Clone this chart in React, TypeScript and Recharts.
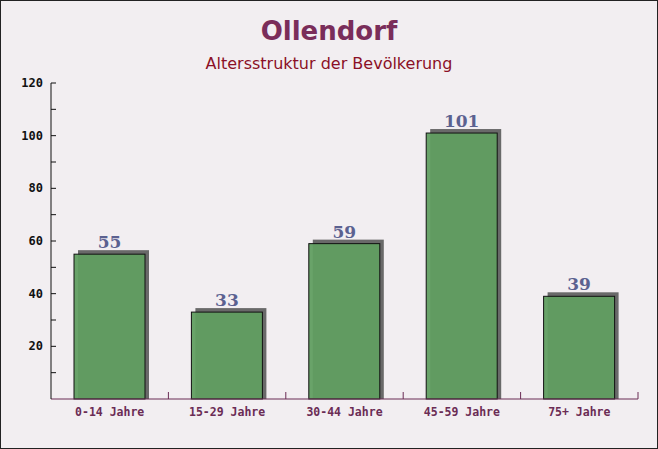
import { Bar, BarChart, LabelList, XAxis, YAxis } from 'recharts';

const categories = ['0-14 Jahre', '15-29 Jahre', '30-44 Jahre', '45-59 Jahre', '75+ Jahre'];
const population = [55, 33, 59, 101, 39];
const yTicks = [0, 10, 20, 30, 40, 50, 60, 70, 80, 90, 100, 110, 120];

const data = categories.map((name, i) => ({ name, value: population[i] }));

function ShadowBar(props: any) {
  const { x, y, width, height } = props;
  if (!height || height <= 0) return null;
  return (
    <g>
      <rect x={x + 4} y={y - 4} width={width} height={height + 4} fill="#5a5a5a" fillOpacity={0.9} />
      <rect x={x} y={y} width={width} height={height} fill="#619e61" fillOpacity={0.95} stroke="#111" strokeWidth={1} />
    </g>
  );
}

function XTick(props: any) {
  const { x, y, payload } = props;
  const half = payload.offset ?? 58.7;
  return (
    <g>
      <line x1={x + half} y1={y} x2={x + half} y2={y - 7} stroke="#6b2c55" />
      <text
        x={x}
        y={y + 17}
        textAnchor="middle"
        fill="#6b2c55"
        style={{ fontFamily: 'DejaVu Sans Mono', fontSize: 11.5, fontWeight: 'bold' }}
      >
        {payload.value}
      </text>
    </g>
  );
}

function YTick(props: any) {
  const { x, y, payload } = props;
  const major = payload.value % 20 === 0;
  if (payload.value === 0) return null;
  return (
    <g>
      <line x1={x} y1={y} x2={x + 5} y2={y} stroke="#111" />
      {major && (
        <text
          x={x - 8}
          y={y + 4}
          textAnchor="end"
          fill="#111"
          style={{ fontFamily: 'DejaVu Sans Mono', fontSize: 12, fontWeight: 'bold' }}
        >
          {payload.value}
        </text>
      )}
    </g>
  );
}

export default function App() {
  return (
    <div
      style={{
        position: 'absolute',
        left: 0,
        top: 0,
        width: 656,
        height: 447,
        background: '#f2eef1',
        border: '1px solid #222',
        fontFamily: 'DejaVu Sans',
      }}
    >
      <div
        style={{
          position: 'absolute',
          top: 15,
          width: '100%',
          textAlign: 'center',
          fontSize: 26,
          fontWeight: 'bold',
          color: '#7a2d5a',
        }}
      >
        Ollendorf
      </div>
      <div
        style={{
          position: 'absolute',
          top: 53,
          width: '100%',
          textAlign: 'center',
          fontSize: 16,
          color: '#8b1026',
        }}
      >
        Altersstruktur der Bevölkerung
      </div>
      <BarChart
        width={656}
        height={447}
        data={data}
        margin={{ top: 82, right: 19, bottom: 0, left: 0 }}
        style={{ position: 'absolute', left: 0, top: 0 }}
      >
        <XAxis
          dataKey="name"
          height={49}
          stroke="#6b2c55"
          tickLine={false}
          tickSize={0}
          tickMargin={0}
          tick={<XTick />}
          interval={0}
        />
        <YAxis
          width={50}
          domain={[0, 120]}
          ticks={yTicks}
          interval={0}
          stroke="#111"
          tickLine={false}
          tickSize={0}
          tickMargin={0}
          tick={<YTick />}
        />
        <Bar dataKey="value" barSize={71} shape={<ShadowBar />} isAnimationActive={false}>
          <LabelList
            dataKey="value"
            position="top"
            offset={6}
            fill="#5b6190"
            style={{ fontFamily: 'DejaVu Serif', fontSize: 17, fontWeight: 'bold' }}
          />
        </Bar>
      </BarChart>
    </div>
  );
}
